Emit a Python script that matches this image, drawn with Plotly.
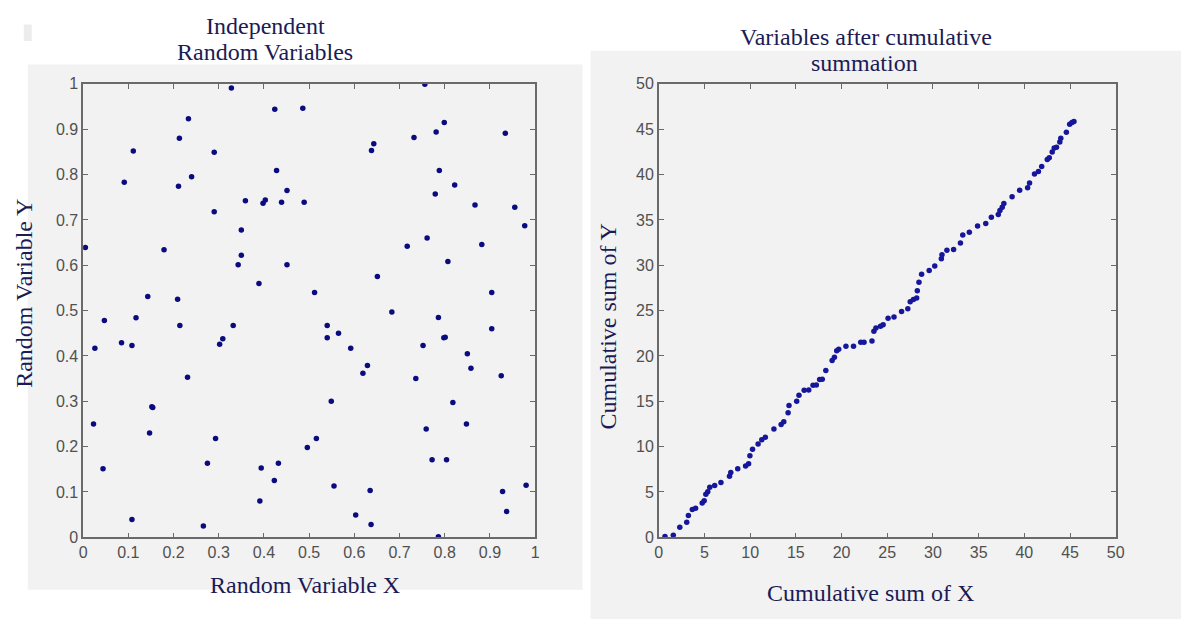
import plotly.graph_objects as go

# ---- Left panel: independent random variables ----
rand_x = [0.005, 0.091, 0.111, 0.143, 0.209, 0.179, 0.211, 0.213, 0.233, 0.240,
          0.290, 0.290, 0.328, 0.350, 0.350, 0.343, 0.359, 0.389, 0.398, 0.403,
          0.424, 0.428, 0.439, 0.451, 0.451, 0.486, 0.489, 0.756, 0.799, 0.781,
          0.732, 0.643, 0.638, 0.934, 0.788, 0.822, 0.779, 0.867, 0.955, 0.977,
          0.761, 0.717, 0.882, 0.807, 0.651, 0.512, 0.904, 0.683, 0.047, 0.026,
          0.085, 0.108, 0.117, 0.214, 0.309, 0.302, 0.332, 0.231, 0.023, 0.152,
          0.154, 0.147, 0.044, 0.108, 0.293, 0.275, 0.266, 0.394, 0.391, 0.423,
          0.432, 0.496, 0.516, 0.540, 0.540, 0.565, 0.592, 0.629, 0.619, 0.549,
          0.555, 0.635, 0.603, 0.637, 0.786, 0.752, 0.736, 0.786, 0.798, 0.801,
          0.759, 0.772, 0.804, 0.818, 0.848, 0.850, 0.858, 0.904, 0.925, 0.928,
          0.937, 0.980]
rand_y = [0.639, 0.783, 0.852, 0.531, 0.525, 0.634, 0.774, 0.880, 0.923, 0.795,
          0.849, 0.718, 0.991, 0.678, 0.622, 0.601, 0.742, 0.560, 0.737, 0.744,
          0.944, 0.809, 0.739, 0.765, 0.601, 0.946, 0.739, 0.999, 0.915, 0.894,
          0.882, 0.868, 0.853, 0.891, 0.809, 0.777, 0.757, 0.733, 0.728, 0.687,
          0.660, 0.642, 0.646, 0.608, 0.575, 0.540, 0.540, 0.497, 0.478, 0.417,
          0.429, 0.423, 0.484, 0.467, 0.438, 0.426, 0.467, 0.353, 0.250, 0.288,
          0.286, 0.230, 0.151, 0.039, 0.218, 0.163, 0.025, 0.153, 0.080, 0.125,
          0.163, 0.198, 0.218, 0.467, 0.440, 0.450, 0.417, 0.379, 0.362, 0.300,
          0.113, 0.103, 0.049, 0.028, 0.001, 0.423, 0.350, 0.485, 0.440, 0.441,
          0.239, 0.171, 0.171, 0.297, 0.250, 0.405, 0.373, 0.460, 0.356, 0.101,
          0.057, 0.115]

# ---- Right panel: cumulative sums ----
cum_x = [0.68, 1.59, 2.30, 3.06, 3.24, 3.67, 4.03, 4.75, 4.97, 5.15,
         5.36, 5.58, 6.12, 6.80, 7.74, 7.88, 8.64, 9.50, 9.83, 9.97,
         10.26, 10.87, 11.27, 11.66, 12.60, 13.39, 13.68, 14.15, 14.25, 15.09,
         15.34, 15.91, 16.41, 16.88, 17.24, 17.60, 17.89, 18.28, 18.97, 19.22,
         19.47, 19.69, 20.48, 21.31, 22.10, 22.46, 23.33, 23.54, 23.76, 24.26,
         24.55, 25.09, 25.74, 26.57, 27.25, 27.51, 27.86, 28.22, 28.29, 28.47,
         28.76, 29.59, 30.20, 30.92, 30.99, 31.53, 32.26, 33.01, 33.26, 33.98,
         34.88, 35.78, 36.39, 37.15, 37.33, 37.58, 37.76, 38.66, 39.49, 40.36,
         40.57, 41.11, 41.54, 41.90, 42.51, 42.73, 43.05, 43.27, 43.52, 43.88,
         43.99, 44.60, 44.96, 45.21, 45.43]
cum_y = [0.08, 0.22, 1.11, 1.65, 2.41, 3.05, 3.20, 3.78, 4.02, 4.75,
         5.03, 5.53, 5.72, 6.04, 6.72, 7.15, 7.55, 7.87, 8.12, 8.99,
         9.71, 10.28, 10.76, 11.04, 11.94, 12.44, 12.73, 13.73, 14.53, 15.00,
         15.67, 16.21, 16.25, 16.76, 16.80, 17.40, 17.44, 18.40, 19.50, 19.85,
         20.57, 20.74, 21.07, 21.07, 21.50, 21.50, 21.65, 22.73, 23.09, 23.27,
         23.44, 24.16, 24.30, 24.89, 25.21, 25.97, 26.21, 26.40, 27.18, 28.12,
         29.02, 29.41, 29.91, 30.71, 31.17, 31.64, 31.75, 32.44, 33.33, 33.63,
         34.34, 34.60, 35.30, 35.60, 36.03, 36.39, 36.82, 37.54, 38.26, 38.54,
         39.08, 40.05, 40.34, 40.88, 41.67, 41.86, 42.50, 42.94, 43.01, 43.58,
         44.01, 44.66, 45.56, 45.74, 45.85]

W, H = 1190, 628
def px(x):
    return x / W
def py(y):
    return 1 - y / H

fig = go.Figure()
fig.add_trace(go.Scatter(x=rand_x, y=rand_y, mode="markers",
                         marker=dict(symbol="circle", size=5.5, color="#0b0b80"),
                         xaxis="x", yaxis="y", showlegend=False))
fig.add_trace(go.Scatter(x=cum_x, y=cum_y, mode="markers",
                         marker=dict(symbol="circle", size=5.5, color="#16169a"),
                         xaxis="x2", yaxis="y2", showlegend=False))

tickfont = dict(family="Liberation Sans Narrow, Arial Narrow, Liberation Sans, sans-serif",
                size=16, color="#505050")
common = dict(showgrid=False, zeroline=False, showline=True, linecolor="#6a6a6a",
              linewidth=1.5, mirror="ticks", ticks="inside", ticklen=5,
              tickcolor="#6a6a6a", tickwidth=1.2, tickfont=tickfont)

ydom = [py(544), py(78)]
fig.update_layout(
    width=W, height=H,
    margin=dict(l=0, r=0, t=0, b=0),
    paper_bgcolor="#ffffff",
    plot_bgcolor="#f7f7f7",
    xaxis=dict(domain=[px(80), px(537)], range=[0, 1], dtick=0.1, anchor="y", **common),
    yaxis=dict(domain=ydom, range=[0, 1], dtick=0.1, anchor="x", **common),
    xaxis2=dict(domain=[px(662), px(1124)], range=[0, 50], dtick=5, anchor="y2", **common),
    yaxis2=dict(domain=ydom, range=[0, 50], dtick=5, anchor="x2", **common),
    shapes=[
        dict(type="rect", xref="paper", yref="paper", x0=px(24), x1=px(585),
             y0=py(598), y1=py(58), fillcolor="#f2f2f2", line=dict(width=0), layer="below"),
        dict(type="rect", xref="paper", yref="paper", x0=px(593), x1=1,
             y0=0, y1=py(44), fillcolor="#f2f2f2", line=dict(width=0), layer="below"),
        dict(type="rect", xref="paper", yref="paper", x0=px(20), x1=px(28),
             y0=py(34), y1=py(17), fillcolor="#ececec", line=dict(width=0), layer="below"),
    ],
)

tfont = dict(family="Liberation Serif, Times New Roman, serif", size=24, color="#1b1b55")
annots = [
    ("Independent", 264, 19, 0),
    ("Random Variables", 264, 45, 0),
    ("Variables after cumulative", 872, 30, 0),
    ("summation", 870, 57, 0),
    ("Random Variable X", 304, 593, 0),
    ("Cumulative sum of X", 876, 601, 0),
    ("Random Variable Y", 20, 293, -90),
    ("Cumulative sum of Y", 611, 327, -90),
]
for text, x, y, ang in annots:
    fig.add_annotation(text=text, x=px(x), y=py(y), xref="paper", yref="paper",
                       xanchor="center", yanchor="middle", showarrow=False,
                       textangle=ang, font=tfont)

fig.write_html("out.html")
